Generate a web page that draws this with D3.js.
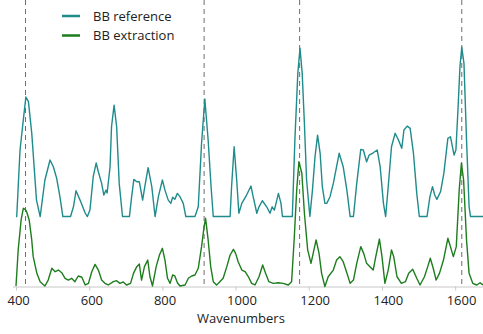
<!DOCTYPE html>
<html><head><meta charset="utf-8">
<script src="https://cdn.jsdelivr.net/npm/d3@7"></script>
<style>
body{margin:0;background:#fff;}
svg{display:block;font-family:"Open Sans",sans-serif;}
</style></head>
<body><svg id="c" width="483" height="334"></svg>
<script>
const seriesNames = ["BB reference", "BB extraction"];
const refWn = [400,402,411,422,427,434,443,456,466,479,493,502,511,520,528,549,557,564,575,589,595,602,611,619,625,634,640,646,649,657,661,668,675,682,691,710,716,722,730,737,746,752,761,771,780,789,800,807,816,823,828,834,841,848,857,864,889,898,907,916,925,933,939,985,989,996,1003,1009,1017,1030,1042,1048,1058,1064,1073,1085,1094,1100,1106,1117,1124,1128,1155,1162,1170,1176,1182,1188,1194,1203,1210,1217,1224,1231,1237,1244,1249,1258,1267,1283,1294,1304,1313,1322,1331,1342,1349,1358,1365,1376,1387,1395,1404,1410,1417,1426,1436,1445,1454,1460,1469,1477,1486,1495,1502,1523,1531,1538,1544,1550,1560,1569,1580,1587,1597,1602,1608,1613,1618,1624,1631,1638,1642,1676];
const refVal = [0,0,52.6,81.8,94.5,90.8,66,13,0,28.9,44.7,39.4,30.4,15.7,0,0,7.7,20.4,13,2.8,0,5.1,31.5,42.3,35.4,26.2,17,20.9,18.6,39.4,71,88.1,71,26.2,0,0,15.7,29.4,27.5,27.5,13,23.6,38.6,23.6,0,15.7,28.9,20.9,13,10.4,15.2,13.6,18.3,15.7,10.4,0,0,7.7,57.9,92.9,60.5,23.6,0,0,23.6,55.2,28.9,2.6,10.4,17,24.1,15.7,2.6,7.7,12.5,7.7,2.6,7.7,5.1,18.3,10.4,0,0,60.5,113.2,133,113.2,73.7,28.9,0,20.9,47.3,64.4,50,23.6,10.4,10.4,15.7,26.2,50,39.4,20.9,0,0,26.2,53.1,52.6,43.3,48.6,50.4,52.6,39.4,10.4,0,23.6,55.2,65.8,60.5,53.9,68.4,71.5,69.7,50,18.3,0,0,15.7,23.6,17,13.6,19.6,34.1,61.8,63.1,48.6,52.6,86.8,118.4,133.8,121.1,60.5,7.7,0,0];
const extWn = [400,406,414,420,425,429,436,443,447,457,466,479,488,498,507,516,525,534,543,552,561,570,580,589,598,607,616,625,634,643,652,666,675,684,693,702,713,721,730,737,743,751,760,766,773,783,792,800,807,814,821,828,834,841,848,862,871,880,889,898,907,914,918,925,932,939,948,953,966,976,985,994,1000,1007,1017,1026,1035,1044,1053,1064,1074,1082,1091,1103,1117,1130,1144,1153,1160,1167,1173,1181,1188,1197,1206,1212,1220,1228,1235,1244,1253,1267,1276,1285,1294,1303,1313,1322,1331,1342,1350,1358,1367,1376,1383,1393,1400,1408,1417,1426,1432,1441,1453,1464,1473,1484,1495,1504,1516,1525,1532,1540,1548,1557,1568,1580,1587,1595,1603,1611,1617,1623,1631,1638,1648,1659,1668,1676];
const extVal = [0.4,28.9,52.6,61.8,61,59.1,52.6,36.8,23.6,10.4,3.8,0.4,5.1,14.4,11.7,13,10.9,6.5,5.1,6.5,3.8,8.3,7.3,1.2,2.5,11.7,17.5,13,5.1,2.5,1.2,3.8,4.6,2.5,3.6,1.2,2.5,10.4,15.7,17.8,5.1,15.7,20.9,7.7,0.4,15.7,24.9,30.2,20.9,6.5,2.5,9.1,8.3,3,0.4,1.2,6.5,8.3,9.1,14.4,31.5,47.3,53.9,36.8,15.7,3.8,1.2,2.5,6.5,15.7,24.9,29.4,26.2,19.6,13,11.7,7.7,2.5,1.2,7.7,17,10.4,3.8,2.5,3,2.5,1.2,3.8,36.8,76.3,98.7,89.5,57.9,28.9,18.3,26.2,36.8,26.2,10.4,0,7.7,13,20.9,23.6,19.6,11.7,2.5,5.1,18.3,31.5,26.2,18.3,15.7,13,23.6,37.5,23.6,2.5,13,28.9,23.6,7.7,2.5,3.8,10.4,13.6,6.5,1.2,7.7,15.7,22.3,14.4,5.1,10.4,20.9,38.1,31.5,23.6,31.5,76.3,97.4,84.2,36.8,10.4,2.5,1.2,3,1.2];
const refOffset = 55.3;
const markerWn = [426, 914, 1175, 1618];
const tickValues = [400, 600, 800, 1000, 1200, 1400, 1600];
const xTitle = "Wavenumbers";
const colors = ["#1f8b8b", "#1d7d1d"];

const svg = d3.select("#c");
const x = d3.scaleLinear().domain([400, 1676]).range([16, 483]);
const y = d3.scaleLinear().domain([0, 100]).range([286.5, 160]);

// dashed marker lines
svg.selectAll("line.mk").data(markerWn).join("line")
  .attr("class","mk")
  .attr("x1", d => x(d)).attr("x2", d => x(d))
  .attr("y1", 0).attr("y2", 286)
  .attr("stroke", "#6e6e6e").attr("stroke-width", 1)
  .attr("stroke-dasharray", "5,4");

// axis
const ax = svg.append("g").attr("transform", "translate(0,286.5)")
  .call(d3.axisBottom(x).tickValues(tickValues).tickSize(4).tickPadding(5).tickFormat(d3.format("d")));
ax.select(".domain").attr("stroke", "#c8c8c8").attr("d", "M13,0.5H483");
ax.selectAll(".tick line").attr("stroke", "#c8c8c8");
ax.selectAll(".tick text").attr("fill", "#222").attr("font-size", 13)
  .attr("font-family", "Open Sans, sans-serif").attr("text-anchor", "start").attr("dx", -9);

svg.append("text").attr("x", 241).attr("y", 323).attr("text-anchor", "middle")
  .attr("font-size", 13).attr("fill", "#222").text(xTitle);

const line = d3.line().x(d => x(d[0])).y(d => y(d[1]));
const refPts = refWn.map((w, i) => [w, refVal[i] + refOffset]);
const extPts = extWn.map((w, i) => [w, extVal[i]]);

svg.append("path").datum(refPts).attr("d", line).attr("fill", "none")
  .attr("stroke", colors[0]).attr("stroke-width", 1.4).attr("stroke-linejoin", "round");
svg.append("path").datum(extPts).attr("d", line).attr("fill", "none")
  .attr("stroke", colors[1]).attr("stroke-width", 1.4).attr("stroke-linejoin", "round");

// legend
const lg = svg.append("g");
seriesNames.forEach((n, i) => {
  const yy = 16 + i * 19.5;
  lg.append("rect").attr("x", 62).attr("y", yy - 1.25).attr("width", 18).attr("height", 2.5).attr("fill", colors[i]);
  lg.append("text").attr("x", 93).attr("y", yy + 4.5).attr("font-size", 13).attr("fill", "#222").text(n);
});
</script></body></html>
